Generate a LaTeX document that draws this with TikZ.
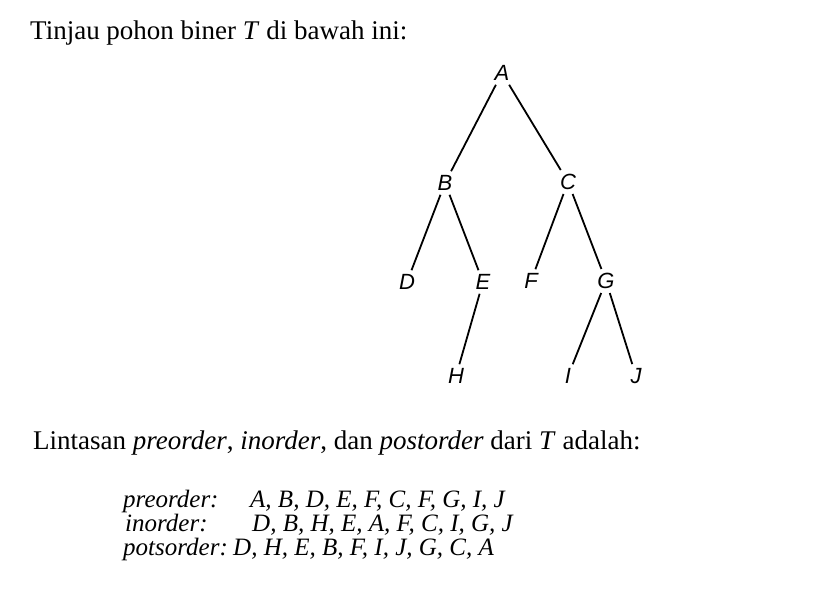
\documentclass[tikz,border=0pt]{standalone}
\usepackage{fontspec}
\setmainfont{Liberation Serif}
\newfontfamily\labelfont{Liberation Sans}
\usetikzlibrary{positioning}

\begin{document}
\begin{tikzpicture}[
        x=1pt, y=-1pt,
        every node/.style={inner sep=0pt, font=\fontsize{27}{31}\selectfont},
        listtext/.style={anchor=base west, font=\itshape\fontsize{25}{27}\selectfont},
        treenode/.style={font=\labelfont\itshape\fontsize{22}{25}\selectfont, inner sep=4pt},
        branch/.style={draw=black, line width=1.8pt}
    ]
        \useasboundingbox (0,0) rectangle (817,596);

        % --- Heading ---
        \node[anchor=base west] (intro) at (30,40) {Tinjau pohon biner \textit{T} di bawah ini:};

        % --- Tree T ---
        \node[treenode] (A) at (502,73) {A};
        \node[treenode] (B) at (445,183) {B};
        \node[treenode] (C) at (568,182) {C};
        \node[treenode] (D) at (407,282) {D};
        \node[treenode] (E) at (483,282) {E};
        \node[treenode] (F) at (531,281) {F};
        \node[treenode] (G) at (606,281) {G};
        \node[treenode] (H) at (456,376) {H};
        \node[treenode] (I) at (568,376) {I};
        \node[treenode] (J) at (636,376) {J};

        \draw[branch] (A) -- (B);
        \draw[branch] (A) -- (C);
        \draw[branch] (B) -- (D);
        \draw[branch] (B) -- (E);
        \draw[branch] (C) -- (F);
        \draw[branch] (C) -- (G);
        \draw[branch] (E) -- (H);
        \draw[branch] (G) -- (I);
        \draw[branch] (G) -- (J);

        % --- Traversals ---
        \node[anchor=base west] (question) at (33,449) {Lintasan \textit{preorder}, \textit{inorder}, dan \textit{postorder} dari \textit{T} adalah:};

        \node[listtext] (prelabel) at (123,507) {preorder:};
        \node[listtext] (inlabel) at (125,531) {inorder:};
        \node[listtext] (postlabel) at (123,555) {potsorder:};

        \node[listtext] (prelist) at (250,507) {A, B, D, E, F, C, F, G, I, J};
        \node[listtext] (inlist) at (252,531) {D, B, H, E, A, F, C, I, G, J};
        \node[listtext, right=5pt of postlabel.base east, anchor=base west] (postlist) {D, H, E, B, F, I, J, G, C, A};

    \end{tikzpicture}
\end{document}
